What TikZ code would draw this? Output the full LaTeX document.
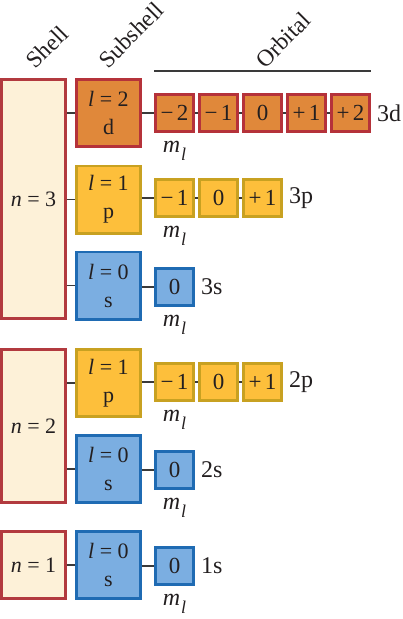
\documentclass[tikz,border=0pt]{standalone}
\usepackage{fontspec}
\setmainfont{Liberation Serif}
\definecolor{shellfill}{HTML}{FDF1D8}
\definecolor{shellborder}{HTML}{B23A3F}
\definecolor{dfill}{HTML}{E0883A}
\definecolor{dborder}{HTML}{B5323A}
\definecolor{pfill}{HTML}{FDBF3B}
\definecolor{pborder}{HTML}{C8A121}
\definecolor{sfill}{HTML}{7BAEE1}
\definecolor{sborder}{HTML}{1F6BB3}
\definecolor{linecol}{HTML}{3A3A3A}
\definecolor{txt}{HTML}{231F20}
\tikzset{
  box/.style={rectangle, draw, line width=2.6pt, inner sep=0pt, align=center,
    text=txt, font=\fontsize{22}{28}\selectfont},
  shellbox/.style={box, fill=shellfill, draw=shellborder, minimum width=64.4pt},
  subbox/.style={box, minimum width=64.4pt, minimum height=67.4pt},
  orb/.style={box, minimum width=38.4pt, minimum height=37.4pt, font=\fontsize{23}{26}\selectfont},
  dcol/.style={fill=dfill, draw=dborder},
  pcol/.style={fill=pfill, draw=pborder},
  scol/.style={fill=sfill, draw=sborder},
  conn/.style={draw=linecol, line width=1.2pt},
  lbl/.style={text=txt, font=\fontsize{24}{26}\selectfont, inner sep=0pt},
  head/.style={text=txt, font=\fontsize{23.5}{26}\selectfont, rotate=45, inner sep=0pt},
  mlab/.style={text=txt, font=\fontsize{24}{26}\selectfont, inner sep=0pt, anchor=north}
}
\newcommand{\mlsym}{\textit{m}\hspace{0.03em}\raisebox{-8pt}{\fontsize{18}{18}\selectfont\textit{l}}}
\newcommand{\eqsp}{\hspace{0.25em}=\hspace{0.25em}}
\newcommand{\sg}[2]{#1\hspace{0.14em}#2}
\begin{document}
\begin{tikzpicture}[x=1pt,y=-1pt]
\useasboundingbox (0,0) rectangle (403,619);
% headings
\node[head] (hshell) at (47,47) {Shell};
\node[head] (hsub) at (131,35) {Subshell};
\node[head] (horb) at (283,40) {Orbital};
\coordinate (ol) at (154,71);
\coordinate (or) at (371,71);
\draw[conn] (ol) -- (or);
% shells
\node[shellbox, minimum height=239.4pt] (n3) at (33.5,199) {\textit{n}\eqsp 3};
\node[shellbox, minimum height=153.4pt] (n2) at (33.5,426) {\textit{n}\eqsp 2};
\node[shellbox, minimum height=67.4pt] (n1) at (33.5,565) {\textit{n}\eqsp 1};
% subshells
\node[subbox, dcol] (d3) at (108.5,113) {\textit{l}\eqsp 2\\d};
\node[subbox, pcol] (p3) at (108.5,199.5) {\textit{l}\eqsp 1\\p};
\node[subbox, scol] (s3) at (108.5,285.5) {\textit{l}\eqsp 0\\s};
\node[subbox, pcol] (p2) at (108.5,383) {\textit{l}\eqsp 1\\p};
\node[subbox, scol] (s2) at (108.5,469) {\textit{l}\eqsp 0\\s};
\node[subbox, scol] (s1) at (108.5,565) {\textit{l}\eqsp 0\\s};
% shell-subshell connectors
\foreach \a/\b in {n3/d3,n3/p3,n3/s3,n2/p2,n2/s2,n1/s1}
  \draw[conn] (\a.east |- \b.west) -- (\b.west);
% orbitals 3d
\node[orb, dcol] (d31) at (174.5,113) {\sg{−}{2}};
\node[orb, dcol] (d32) at (218.5,113) {\sg{−}{1}};
\node[orb, dcol] (d33) at (262.5,113) {0};
\node[orb, dcol] (d34) at (306.5,113) {\sg{+}{1}};
\node[orb, dcol] (d35) at (350.5,113) {\sg{+}{2}};
% 3p
\node[orb, pcol] (p31) at (174.5,198) {\sg{−}{1}};
\node[orb, pcol] (p32) at (218.5,198) {0};
\node[orb, pcol] (p33) at (262.5,198) {\sg{+}{1}};
% 3s
\node[orb, scol] (s31) at (174.5,287) {0};
% 2p
\node[orb, pcol] (p21) at (174.5,382) {\sg{−}{1}};
\node[orb, pcol] (p22) at (218.5,382) {0};
\node[orb, pcol] (p23) at (262.5,382) {\sg{+}{1}};
% 2s
\node[orb, scol] (s21) at (174.5,470) {0};
% 1s
\node[orb, scol] (s11) at (174.5,566) {0};
% subshell-orbital connectors
\foreach \a/\b in {d3/d31,p3/p31,s3/s31,p2/p21,s2/s21,s1/s11}
  \draw[conn] (\a.east |- \b.west) -- (\b.west);
\foreach \a/\b in {d31/d32,d32/d33,d33/d34,d34/d35,p31/p32,p32/p33,p21/p22,p22/p23}
  \draw[conn] (\a.east) -- (\b.west);
% labels
\node[lbl, anchor=west] (l3d) at ([xshift=6pt]d35.east) {3d};
\node[lbl, anchor=west] (l3p) at ([xshift=6pt]p33.east) {3p};
\node[lbl, anchor=west] (l3s) at ([xshift=6pt]s31.east) {3s};
\node[lbl, anchor=west] (l2p) at ([xshift=6pt]p23.east) {2p};
\node[lbl, anchor=west] (l2s) at ([xshift=6pt]s21.east) {2s};
\node[lbl, anchor=west] (l1s) at ([xshift=6pt]s11.east) {1s};
% m_l
\foreach \o in {d31,p31,s31,p21,s21,s11}
  \node[mlab] (m\o) at ([yshift=-8pt]\o.south) {\mlsym};
\end{tikzpicture}
\end{document}
